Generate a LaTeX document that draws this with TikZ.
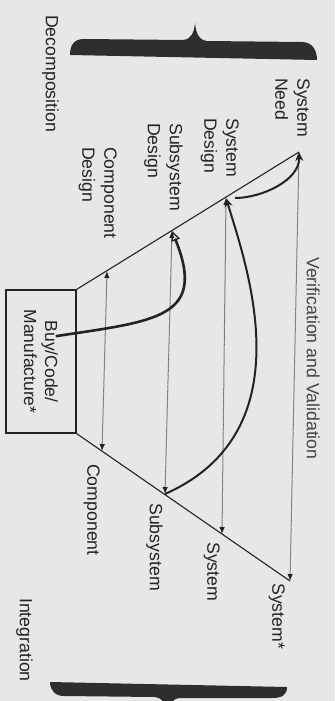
\documentclass[tikz,border=0pt]{standalone}
\usepackage{fontspec}
\setmainfont{Liberation Sans}
\usetikzlibrary{arrows.meta}
\definecolor{paper}{RGB}{231,231,231}
\definecolor{ink}{RGB}{35,35,35}
\begin{document}
\begin{tikzpicture}[x=1pt,y=-1pt,
  lbl/.style={rotate=-90, anchor=north west, inner sep=0pt, align=left,
    font=\fontsize{17.7}{22}\selectfont, text=ink},
  arm/.style={draw=ink, line width=1.1pt},
  vv/.style={draw=ink, line width=1pt, dash pattern=on 1pt off 1pt,
    {Latex[length=7pt,width=5.5pt]}-{Latex[length=7pt,width=5.5pt]}},
  flow/.style={draw=ink, line width=2pt, -{Stealth[length=9pt,width=8pt]}},
  flowopen/.style={draw=ink, line width=2.6pt, line cap=rect,
    -{Triangle[open,length=10pt,width=9pt,line width=1.3pt]}},
  brace/.style={fill=ink!95}
]
\useasboundingbox (0,0) rectangle (335,701);
\clip (0,0) rectangle (335,701);
\fill[paper] (0,0) rectangle (335,701);

% braces
\path[brace] (70,55) .. controls (70,45) and (74,39) .. (84,39)
  -- (183,40) .. controls (192,39) and (194,32) .. (195,23)
  .. controls (196,32) and (198,40) .. (207,41)
  -- (302,42) .. controls (312,42) and (317,50) .. (317,60) -- cycle;
\path[brace] (50,682) -- (287,687) .. controls (287,695) and (282,698) .. (272,698)
  -- (180,698) .. controls (172,699) and (170,703) .. (168,712)
  .. controls (166,703) and (162,698) .. (155,697)
  -- (64,696) .. controls (55,696) and (50,690) .. (50,682) -- cycle;

% box at the bottom of the V
\node[draw=ink, line width=1.1pt, rotate=-90, minimum width=143pt, minimum height=70pt,
  inner sep=0pt, align=center, font=\fontsize{17.5}{21}\selectfont, text=ink]
  (box) at (41,361.5) {Buy/Code/\\Manufacture*};

% points on the two arms
\coordinate (N) at (299,152);
\coordinate (SD) at (226,198);
\coordinate (SSD) at (172,231);
\coordinate (CD) at (107,271);
\coordinate (C) at (102,451);
\coordinate (SS) at (165,494);
\coordinate (S) at (222,534);
\coordinate (SX) at (290,581);
\coordinate (bstart) at (57,336);

% arms
\draw[arm] (N) -- (box.north west);
\draw[arm] (box.north east) -- (SX);

% verification links
\draw[vv] (N) -- (SX);
\draw[vv] (SD) -- (S);
\draw[vv] (SSD) -- (SS);
\draw[vv] (CD) -- (C);

% flows
\draw[flow, shorten <=9pt] (SD) .. controls (262,198) and (300,180) .. (N);
\draw[flow] (SS) .. controls (305,432) and (248,270) .. (SD);
\draw[flowopen] (bstart) .. controls (156,321) and (207,318) .. (SSD);

% labels
\node[lbl] (need) at (310,78) {System\\Need};
\node[lbl] (sysd) at (239,118) {System\\Design};
\node[lbl] (subd) at (183,123) {Subsystem\\Design};
\node[lbl] (compd) at (117,147) {Component\\Design};
\node[lbl] (decomp) at (59,15) {Decomposition};
\node[lbl, text=ink!85] (vandv) at (320,257) {Verification and Validation};
\node[lbl] (comp) at (100,464) {Component};
\node[lbl] (subs) at (163,503) {Subsystem};
\node[lbl] (sys) at (220,542) {System};
\node[lbl] (sysx) at (285,583) {System*};
\node[lbl] (integ) at (33,598) {Integration};
\end{tikzpicture}
\end{document}
